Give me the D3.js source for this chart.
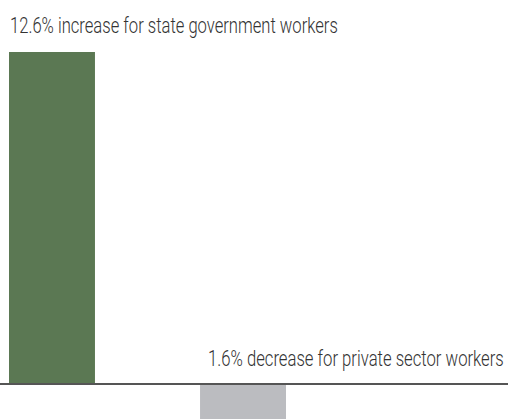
<!DOCTYPE html>
<html>
<head>
<meta charset="utf-8">
<script src="https://cdn.jsdelivr.net/npm/d3@7"></script>
<style>
  html, body { margin: 0; padding: 0; background: #fff; }
  svg { display: block; }
  .label { font-family: Roboto, "DejaVu Sans Condensed", sans-serif; font-weight: 300; fill: #333; }
</style>
</head>
<body>
<div id="chart"></div>
<script>
// Change in employment by sector
const categories = ["State government", "Private sector"];
const values = [12.6, -1.6];
const labels = ["12.6% increase for state government workers", "1.6% decrease for private sector workers"];
const colors = ["#5b7853", "#bbbcc0"];

const width = 508, height = 419;

const svg = d3.select("#chart").append("svg")
  .attr("width", width)
  .attr("height", height);

const x = d3.scaleBand()
  .domain(categories)
  .range([9, 286])
  .paddingInner(0.55)
  .paddingOuter(0);

const y = d3.scaleLinear()
  .domain([0, 12.6])
  .range([384, 52]);

svg.selectAll("rect.bar")
  .data(values)
  .join("rect")
  .attr("class", "bar")
  .attr("x", (d, i) => x(categories[i]))
  .attr("width", x.bandwidth())
  .attr("y", d => y(Math.max(0, d)))
  .attr("height", d => Math.abs(y(d) - y(0)))
  .attr("fill", (d, i) => colors[i]);

// zero baseline
svg.append("line")
  .attr("x1", 0)
  .attr("x2", width)
  .attr("y1", y(0))
  .attr("y2", y(0))
  .attr("stroke", "#555")
  .attr("stroke-width", 2);

// value annotations, squeezed horizontally to a condensed width
function condensedLabel(text, left, baseline, targetWidth) {
  const t = svg.append("text")
    .attr("class", "label")
    .attr("font-size", 22.5)
    .text(text);
  const natural = t.node().getComputedTextLength();
  t.attr("transform", `translate(${left},${baseline}) scale(${targetWidth / natural},1)`);
  return t;
}

condensedLabel(labels[0], 10, 32.5, 328);
condensedLabel(labels[1], 208, 366, 296);
</script>
</body>
</html>
